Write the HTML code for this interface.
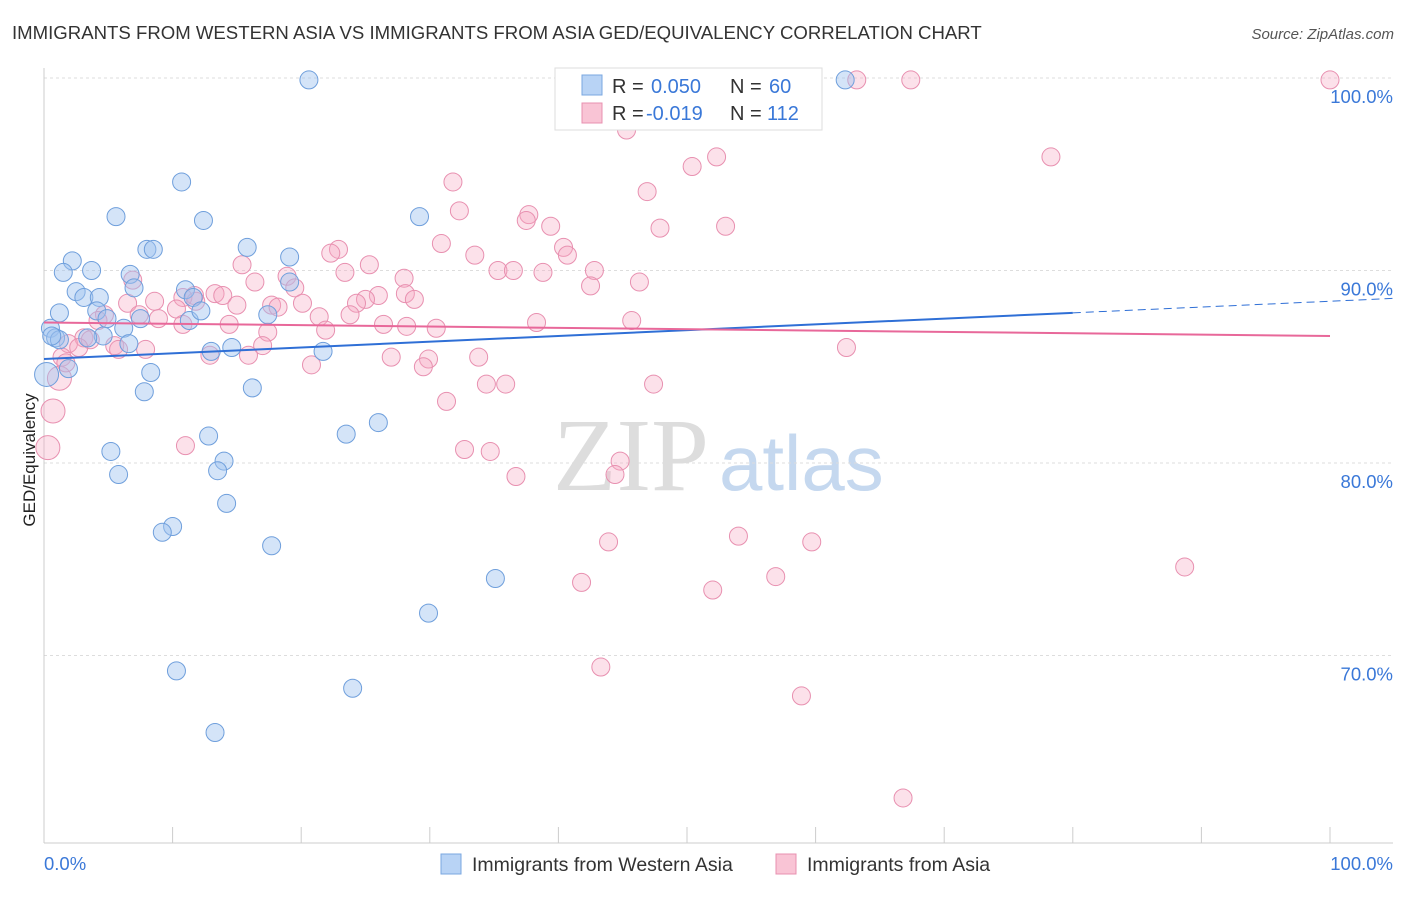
<!DOCTYPE html>
<html><head><meta charset="utf-8"><style>
body{margin:0;background:#fff;font-family:"Liberation Sans",sans-serif;}
svg text{font-family:"Liberation Sans",sans-serif;}
</style></head><body>
<svg id="chart" width="1406" height="892" viewBox="0 0 1406 892">
<text x="12" y="39" font-size="18.6" fill="#333">IMMIGRANTS FROM WESTERN ASIA VS IMMIGRANTS FROM ASIA GED/EQUIVALENCY CORRELATION CHART</text>
<text x="1394" y="39" font-size="15" fill="#555" font-style="italic" text-anchor="end">Source: ZipAtlas.com</text>
<text x="35" y="460" font-size="17" fill="#222" text-anchor="middle" transform="rotate(-90 35 460)">GED/Equivalency</text>
<g>
<text x="553" y="490" font-size="104" fill="#ddd" font-family="Liberation Serif" style="font-family:'Liberation Serif',serif">ZIP</text>
<text x="719" y="490" font-size="78" fill="#c5d8ef">atlas</text>
</g>
<g id="grid"></g><g id="axes"></g><g id="pts"></g><g id="trends"></g>
<g>
<rect x="555" y="68" width="267" height="62" fill="#fff" stroke="#ddd"/>
<rect x="582" y="75" width="20" height="20" fill="#b8d3f5" stroke="#7aa7e0"/>
<rect x="582" y="103" width="20" height="20" fill="#f9c4d5" stroke="#e890b0"/>
<text x="612" y="93" font-size="20" fill="#333">R = <tspan x="651" fill="#3a78d8">0.050</tspan></text>
<text x="730" y="93" font-size="20" fill="#333">N = <tspan x="769" fill="#3a78d8">60</tspan></text>
<text x="612" y="120" font-size="20" fill="#333">R = <tspan x="646" fill="#3a78d8">-0.019</tspan></text>
<text x="730" y="120" font-size="20" fill="#333">N = <tspan x="767" fill="#3a78d8">112</tspan></text>
</g>
<g>
<rect x="441" y="854" width="20" height="20" fill="#b8d3f5" stroke="#7aa7e0"/>
<text x="472" y="871" font-size="19.5" fill="#333">Immigrants from Western Asia</text>
<rect x="776" y="854" width="20" height="20" fill="#f9c4d5" stroke="#e890b0"/>
<text x="807" y="871" font-size="19.5" fill="#333">Immigrants from Asia</text>
</g>
</svg>
<script>
const yTicks=[70,80,90,100];
const yTickLabels=["70.0%","80.0%","90.0%","100.0%"];
const xEndLabels=["0.0%","100.0%"];
const blueX=[20.6,62.3,10.7,5.6,12.4,29.2,8.0,8.5,15.8,19.1,2.2,1.5,3.7,6.7,7.0,2.5,3.1,4.3,11.0,11.6,1.2,4.1,7.5,11.3,12.2,17.4,19.1,6.2,4.9,0.5,0.9,1.2,4.6,3.4,6.6,13.0,14.6,21.7,1.9,8.3,0.2,7.8,16.2,23.5,26.0,12.8,5.2,14.0,5.8,13.5,14.2,10.0,9.2,17.7,35.1,29.9,10.3,24.0,13.3,0.6];
const blueY=[99.9,99.9,94.6,92.8,92.6,92.8,91.1,91.1,91.2,90.7,90.5,89.9,90.0,89.8,89.1,88.9,88.6,88.6,89.0,88.6,87.8,87.9,87.5,87.4,87.9,87.7,89.4,87.0,87.5,87.0,86.5,86.4,86.6,86.5,86.2,85.8,86.0,85.8,84.9,84.7,84.6,83.7,83.9,81.5,82.1,81.4,80.6,80.1,79.4,79.6,77.9,76.7,76.4,75.7,74.0,72.2,69.2,68.3,66.0,86.6];
const pinkX=[100,63.2,67.4,53.3,45.3,52.3,50.4,78.3,31.8,46.9,32.3,37.7,37.5,39.4,47.9,53.0,30.9,22.9,22.3,40.4,40.7,33.5,15.4,25.3,16.4,23.4,28.0,35.3,36.5,38.8,42.8,18.9,42.5,46.3,6.9,19.5,28.1,26.0,11.7,28.8,6.5,8.6,13.3,13.9,10.8,10.3,11.8,15.0,17.7,18.2,20.1,25.0,24.3,21.4,23.8,7.4,8.9,4.7,4.2,14.4,26.4,28.2,30.5,38.3,45.7,17.4,21.9,3.1,3.6,1.9,2.7,5.5,5.8,7.9,17.0,15.9,12.9,27.0,29.9,33.8,29.5,20.8,1.4,1.2,34.4,35.9,47.4,62.4,31.3,0.7,11.0,32.7,34.7,0.3,44.8,36.7,44.4,43.9,54.0,59.7,41.8,56.9,52.0,88.7,43.3,58.9,66.8,10.8,1.7];
const pinkY=[99.9,99.9,99.9,98.6,97.3,95.9,95.4,95.9,94.6,94.1,93.1,92.9,92.6,92.3,92.2,92.3,91.4,91.1,90.9,91.2,90.8,90.8,90.3,90.3,89.4,89.9,89.6,90.0,90.0,89.9,90.0,89.7,89.2,89.4,89.5,89.1,88.8,88.7,88.7,88.5,88.3,88.4,88.8,88.7,88.6,88.0,88.4,88.2,88.2,88.1,88.3,88.5,88.3,87.6,87.7,87.7,87.5,87.7,87.4,87.2,87.2,87.1,87.0,87.3,87.4,86.8,86.9,86.5,86.4,86.2,86.0,86.1,85.9,85.9,86.1,85.6,85.6,85.5,85.4,85.5,85.0,85.1,85.5,84.4,84.1,84.1,84.1,86.0,83.2,82.7,80.9,80.7,80.6,80.8,80.1,79.3,79.4,75.9,76.2,75.9,73.8,74.1,73.4,74.6,69.4,67.9,62.6,87.2,85.2];
const bigBlue=[40];const bigPink=[83,89,93];
const blueTrend=[85.4,0.030];const pinkTrend=[87.3,-0.007];
const X0=44,X1=1330,YTOP=78,PPU=19.25;
const sx=v=>X0+(X1-X0)*v/100;
const sy=v=>YTOP+(100-v)*PPU;
const NS="http://www.w3.org/2000/svg";
function mk(tag,attrs,parent){const e=document.createElementNS(NS,tag);for(const k in attrs)e.setAttribute(k,attrs[k]);document.getElementById(parent).appendChild(e);return e;}
yTicks.forEach((t,i)=>{
 const l=mk('line',{x1:X0,x2:1393,y1:sy(t),y2:sy(t),stroke:'#ddd','stroke-dasharray':'3,3'},'grid');
 
 
 const tx=mk('text',{x:1393,y:sy(t)+25,'font-size':18.5,fill:'#3a78d8','text-anchor':'end'},'axes');
 tx.textContent=yTickLabels[i];
 
 
});
const ax=mk('line',{x1:X0,x2:X0,y1:68,y2:843,stroke:'#ccc'},'axes');


const bx=mk('line',{x1:X0,x2:1393,y1:843,y2:843,stroke:'#ccc'},'axes');


for(let i=0;i<=10;i++){const t=mk('line',{x1:sx(i*10),x2:sx(i*10),y1:827,y2:843,stroke:'#ccc'},'axes');
 
 }
[[0,'start'],[100,'end']].forEach((p,i)=>{const t=mk('text',{x:sx(p[0])+(i?63:0),y:870,'font-size':18.5,fill:'#3a78d8','text-anchor':i?'end':'start'},'axes');t.textContent=xEndLabels[i];
 
 });
function dots(xs,ys,big,fill,stroke,name){xs.forEach((x,i)=>{const c=mk('circle',{cx:sx(x),cy:sy(ys[i]),r:big.includes(i)?12:9,fill:fill,stroke:stroke,'stroke-width':1},'pts');
 
 });}
dots(pinkX,pinkY,bigPink,'rgba(246,170,196,0.35)','#e890b0','pink-point');
dots(blueX,blueY,bigBlue,'rgba(160,195,240,0.45)','#6f9fdc','blue-point');
const bt=mk('line',{x1:sx(0),y1:sy(blueTrend[0]),x2:sx(80),y2:sy(blueTrend[0]+80*blueTrend[1]),stroke:'#2f6fd6','stroke-width':2},'trends');


const bd=mk('line',{x1:sx(80),y1:sy(blueTrend[0]+80*blueTrend[1]),x2:1393,y2:sy(blueTrend[0]+105*blueTrend[1]),stroke:'#2f6fd6','stroke-width':1,'stroke-dasharray':'8,5'},'trends');


const pt=mk('line',{x1:sx(0),y1:sy(pinkTrend[0]),x2:sx(100),y2:sy(pinkTrend[0]+100*pinkTrend[1]),stroke:'#e8689a','stroke-width':2},'trends');


</script>
</body></html>
